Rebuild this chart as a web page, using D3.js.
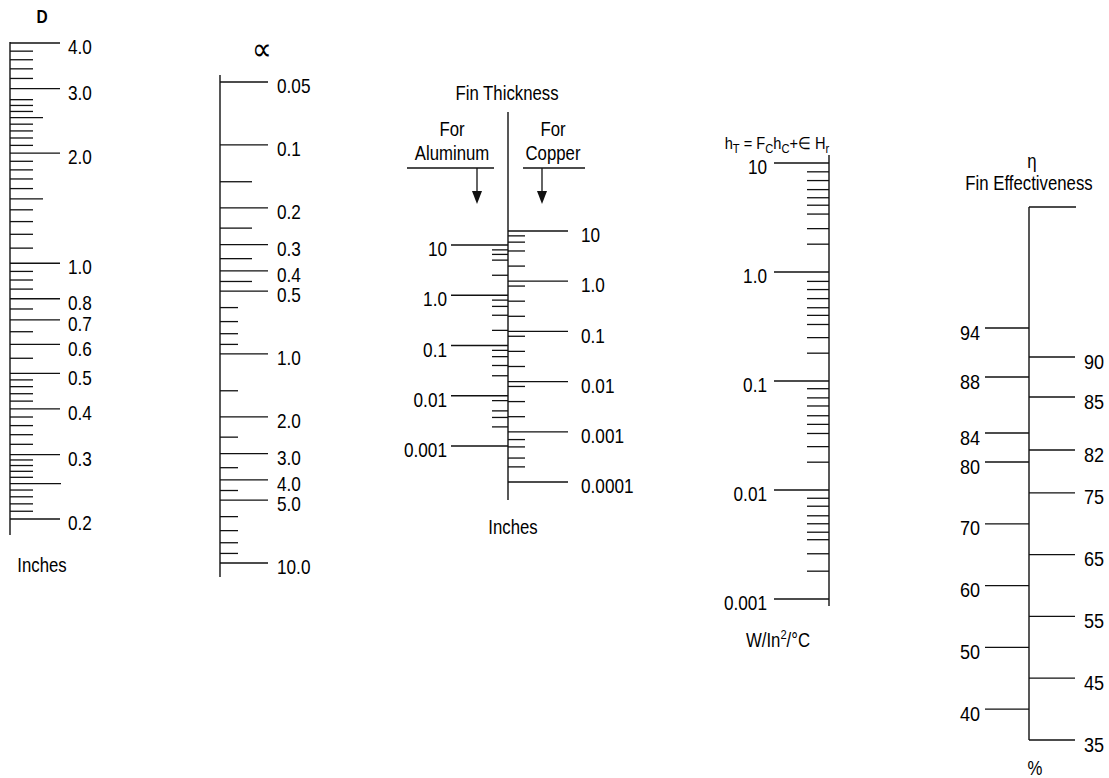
<!DOCTYPE html>
<html lang="en">
<head>
<meta charset="UTF-8" />
<title>Fin Effectiveness Nomogram</title>
<script src="https://d3js.org/d3.v7.min.js"></script>
<style>
  body, html { margin: 0; padding: 0; background: #fff; }
  svg { display: block; font-family: "Liberation Sans", Arial, Helvetica, sans-serif; }
  .axis-line { stroke: #111; stroke-width: 1.4px; }
  .tick { stroke: #111; stroke-width: 1.3px; }
  text { fill: #000; font-size: 20px; }
  .title { font-size: 19.5px; }
</style>
</head>
<body>
<div id="chart"></div>
<script>
// D scale (inches)
const dMajor = [4.0, 3.0, 2.0, 1.0, 0.8, 0.7, 0.6, 0.5, 0.4, 0.3, 0.2];
const dLabels = ["4.0", "3.0", "2.0", "1.0", "0.8", "0.7", "0.6", "0.5", "0.4", "0.3", "0.2"];
const dLong = [0.25];
const dMedium = [2.5, 1.5];
const dMinor = [3.8, 3.6, 3.4, 3.2, 2.8, 2.7, 2.6, 2.4, 2.3, 2.2, 2.1,
  1.9, 1.8, 1.7, 1.6, 1.4, 1.3, 1.2, 1.1, 0.95, 0.9, 0.85, 0.75, 0.65, 0.55,
  0.48, 0.46, 0.44, 0.42, 0.38, 0.36, 0.34, 0.32,
  0.29, 0.28, 0.27, 0.26, 0.24, 0.23, 0.22, 0.21];

// alpha scale
const aMajor = [0.05, 0.1, 0.2, 0.3, 0.4, 0.5, 1.0, 2.0, 3.0, 4.0, 5.0, 10.0];
const aLabels = ["0.05", "0.1", "0.2", "0.3", "0.4", "0.5", "1.0", "2.0", "3.0", "4.0", "5.0", "10.0"];
const aMedium = [0.15, 0.25, 0.35, 0.45];
const aMinor = [0.6, 0.7, 0.8, 0.9, 1.5, 2.5, 3.5, 4.5, 6, 7, 8, 9];

// fin thickness, aluminum (left) and copper (right)
const alMajor = [10, 1.0, 0.1, 0.01, 0.001];
const alLabels = ["10", "1.0", "0.1", "0.01", "0.001"];
const alMinor = [8, 6.5, 5, 2.5, 0.8, 0.6, 0.4, 0.2, 0.08, 0.06, 0.04, 0.025, 0.008, 0.005, 0.0037, 0.0024];
const cuMajor = [10, 1.0, 0.1, 0.01, 0.001, 0.0001];
const cuLabels = ["10", "1.0", "0.1", "0.01", "0.001", "0.0001"];
const cuMinor = [8, 6, 4, 2, 0.8, 0.4, 0.2, 0.08, 0.04, 0.02, 0.008, 0.004, 0.002, 0.0007, 0.0005, 0.0003, 0.0002];

// h_T scale
const hMajor = [10, 1.0, 0.1, 0.01, 0.001];
const hLabels = ["10", "1.0", "0.1", "0.01", "0.001"];
const hMinor = [8.3, 6.9, 5.7, 4.8, 4.1, 3.4, 2.5, 1.8,
  0.82, 0.69, 0.57, 0.47, 0.40, 0.33, 0.25, 0.18,
  0.085, 0.070, 0.059, 0.048, 0.040, 0.033, 0.025, 0.018,
  0.0084, 0.0071, 0.0058, 0.0049, 0.0041, 0.0035, 0.0026, 0.0018];

// eta (fin effectiveness, %)
const etaLeft = [94, 88, 84, 80, 70, 60, 50, 40];
const etaRight = [90, 85, 82, 75, 65, 55, 45, 35];
const etaTop = [100];

const width = 1109, height = 778;
const squeeze = 0.86; // condensed look for the lettering

const svg = d3.select("#chart").append("svg")
  .attr("width", width)
  .attr("height", height);

svg.append("rect").attr("width", width).attr("height", height).attr("fill", "#fff");

function vline(x, y1, y2) {
  svg.append("line").attr("class", "axis-line")
    .attr("x1", x).attr("x2", x).attr("y1", y1).attr("y2", y2);
}

function ticks(scale, values, x1, x2) {
  svg.append("g").selectAll("line")
    .data(values)
    .join("line")
    .attr("class", "tick")
    .attr("x1", x1).attr("x2", x2)
    .attr("y1", d => scale(d)).attr("y2", d => scale(d));
}

function labels(scale, values, texts, x, anchor, size) {
  svg.append("g").selectAll("text")
    .data(values)
    .join("text")
    .attr("x", x)
    .attr("y", d => scale(d) + 4)
    .attr("dy", "0.36em")
    .attr("text-anchor", anchor)
    .style("font-size", (size || 20) + "px")
    .text((d, i) => texts[i]);
}

function title(x, y, str, cls) {
  return svg.append("text").attr("class", cls || "title")
    .attr("x", x).attr("y", y)
    .attr("text-anchor", "middle")
    .text(str);
}

// ---- D
const yD = d3.scaleLog().domain([4.0, 0.2]).range([43, 519]);
vline(10, 42, 535);
ticks(yD, dMajor, 10, 60);
ticks(yD, dLong, 10, 61);
ticks(yD, dMedium, 10, 43);
ticks(yD, dMinor, 10, 33);
labels(yD, dMajor, dLabels, 68, "start");
svg.append("text").attr("x", 42).attr("y", 23).attr("text-anchor", "middle")
  .style("font-weight", "bold").style("font-size", "18px").text("D");
title(42, 572, "Inches");

// ---- alpha
const yA = d3.scaleLog().domain([0.05, 10]).range([82, 563]);
vline(220, 75, 577);
ticks(yA, aMajor, 220, 268);
ticks(yA, aMedium, 220, 252);
ticks(yA, aMinor, 220, 238);
labels(yA, aMajor, aLabels, 277, "start");
svg.append("text").attr("x", 262).attr("y", 60).attr("text-anchor", "middle")
  .style("font-size", "32px").text("\u221D");

// ---- fin thickness
const yAl = d3.scaleLog().domain([10, 0.001]).range([245, 446]);
const yCu = d3.scaleLog().domain([10, 0.0001]).range([231, 482]);
vline(508, 112, 500);
ticks(yAl, alMajor, 451, 508);
ticks(yAl, alMinor, 492, 508);
labels(yAl, alMajor, alLabels, 447, "end");
ticks(yCu, cuMajor, 508, 568);
ticks(yCu, cuMinor, 508, 525);
labels(yCu, cuMajor, cuLabels, 581, "start");

title(507, 100, "Fin Thickness");
title(452, 136, "For");
title(452, 160, "Aluminum");
title(553, 136, "For");
title(553, 160, "Copper");
title(513, 534, "Inches");

[[407, 494, 477], [523, 585, 542]].forEach(([a, b, ax]) => {
  svg.append("line").attr("class", "tick").attr("x1", a).attr("x2", b).attr("y1", 168).attr("y2", 168);
  svg.append("line").attr("class", "tick").attr("x1", ax).attr("x2", ax).attr("y1", 168).attr("y2", 194);
  svg.append("path").attr("fill", "#111")
    .attr("d", `M${ax - 5},${191} L${ax + 5},${191} L${ax},${204} Z`);
});

// ---- h_T
const yH = d3.scaleLog().domain([10, 0.001]).range([163, 599]);
vline(829, 155, 606);
ticks(yH, hMajor, 774, 829);
ticks(yH, hMinor, 807, 829);
labels(yH, hMajor, hLabels, 767, "end");

const ht = svg.append("text").attr("class", "title").attr("x", 777).attr("y", 149)
  .attr("text-anchor", "middle").style("font-size", "17px");
ht.append("tspan").text("h");
ht.append("tspan").attr("dy", 4).style("font-size", "13px").text("T");
ht.append("tspan").attr("dy", -4).text(" = F");
ht.append("tspan").attr("dy", 4).style("font-size", "13px").text("C");
ht.append("tspan").attr("dy", -4).text("h");
ht.append("tspan").attr("dy", 4).style("font-size", "13px").text("C");
ht.append("tspan").attr("dy", -4).text("+\u2208 H");
ht.append("tspan").attr("dy", 4).style("font-size", "13px").text("r");

const unit = svg.append("text").attr("class", "title").attr("x", 778).attr("y", 647).attr("text-anchor", "middle");
unit.append("tspan").text("W/In");
unit.append("tspan").attr("dy", -8).style("font-size", "13px").text("2");
unit.append("tspan").attr("dy", 8).text("/\u00B0C");

// ---- eta (nomogram calibration is non-uniform near the top)
const yE = d3.scaleLinear()
  .domain([100, 94, 90, 88, 85, 84, 82, 80, 35])
  .range([207, 328, 357, 377, 397, 433, 450, 462, 740]);
vline(1029, 207, 740);
ticks(yE, etaLeft, 985, 1029);
ticks(yE, etaRight, 1029, 1075);
ticks(yE, etaTop, 1029, 1076);
labels(yE, etaLeft, etaLeft.map(String), 980, "end", 21);
labels(yE, etaRight, etaRight.map(String), 1084, "start", 21);

svg.append("text").attr("class", "title").attr("x", 1032).attr("y", 168)
  .attr("text-anchor", "middle").text("\u03B7");
title(1029, 190, "Fin Effectiveness");
title(1035, 775, "%");

// narrow every text horizontally about its anchor point
svg.selectAll("text").each(function() {
  const t = d3.select(this);
  const x = +t.attr("x"), y = +t.attr("y");
  t.attr("x", 0).attr("y", 0)
    .attr("transform", `translate(${x},${y}) scale(${squeeze},1)`);
});
</script>
</body>
</html>
